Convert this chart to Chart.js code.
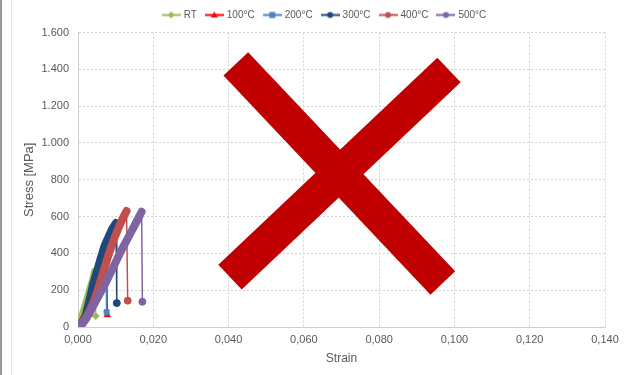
<!DOCTYPE html>
<html>
<head>
<meta charset="utf-8">
<script src="https://cdn.jsdelivr.net/npm/chart.js@4.4.1/dist/chart.umd.min.js"></script>
<style>
  html, body { margin: 0; padding: 0; background: #ffffff; }
  #wrap { position: relative; width: 626px; height: 375px; }
  canvas { display: block; }
</style>
</head>
<body>
<div id="wrap"><canvas id="c" width="626" height="375"></canvas></div>
<script>
// ---- Data ----
const seriesNames = ['RT', '100°C', '200°C', '300°C', '400°C', '500°C'];

const strainRT   = [0, 0.001, 0.002, 0.003, 0.004, 0.0045, 0.0047];
const stressRT   = [0, 50, 115, 185, 255, 300, 60];

const strain100  = [0, 0.001, 0.002, 0.003, 0.004, 0.005, 0.006, 0.007, 0.0076, 0.0078];
const stress100  = [0, 18, 50, 100, 160, 220, 280, 335, 370, 65];

const strain200  = [0, 0.001, 0.002, 0.003, 0.004, 0.005, 0.006, 0.007, 0.0074, 0.0076];
const stress200  = [0, 20, 55, 115, 185, 255, 320, 390, 420, 81];

const strain300  = [0, 0.001, 0.002, 0.003, 0.004, 0.005, 0.006, 0.007, 0.008, 0.009, 0.0101, 0.0103];
const stress300  = [0, 22, 60, 140, 230, 300, 370, 438, 485, 530, 565, 130];

const strain400  = [0, 0.001, 0.002, 0.003, 0.004, 0.005, 0.006, 0.007, 0.008, 0.009, 0.010, 0.011, 0.012, 0.0129, 0.0132];
const stress400  = [0, 20, 48, 85, 130, 185, 250, 318, 385, 445, 500, 550, 595, 630, 143];

const strain500  = [0, 0.001, 0.002, 0.003, 0.004, 0.005, 0.006, 0.007, 0.008, 0.009, 0.010, 0.011, 0.012, 0.013, 0.014, 0.015, 0.016, 0.0169, 0.0171];
const stress500  = [0, 12, 40, 75, 112, 150, 188, 225, 268, 310, 352, 395, 435, 473, 512, 550, 590, 626, 137];

const xTicks = [0, 0.02, 0.04, 0.06, 0.08, 0.10, 0.12, 0.14];
const yTicks = [0, 200, 400, 600, 800, 1000, 1200, 1400, 1600];

// ---- Styles ----
const colors  = ['#9BBB59', '#FF0000', '#4F81BD', '#1F497D', '#C0504D', '#8064A2'];
const markers = ['rectRot', 'triangle', 'rect', 'circle', 'circle', 'circle'];
const strains = [strainRT, strain100, strain200, strain300, strain400, strain500];
const stresses = [stressRT, stress100, stress200, stress300, stress400, stress500];

function pts(xs, ys) { return xs.map((x, i) => ({ x: x, y: ys[i] })); }

function legendIcon(color, marker) {
  const c = document.createElement('canvas');
  c.width = 19; c.height = 9;
  const g = c.getContext('2d');
  g.strokeStyle = color; g.lineWidth = 2;
  g.beginPath(); g.moveTo(0, 4.5); g.lineTo(19, 4.5); g.stroke();
  g.fillStyle = color;
  const cx = 9.5, cy = 4.5, r = 3;
  g.beginPath();
  if (marker === 'circle') { g.arc(cx, cy, r, 0, Math.PI * 2); }
  else if (marker === 'rect') { g.rect(cx - r, cy - r, 2 * r, 2 * r); }
  else if (marker === 'rectRot') { g.moveTo(cx, cy - r - 0.5); g.lineTo(cx + r + 0.5, cy); g.lineTo(cx, cy + r + 0.5); g.lineTo(cx - r - 0.5, cy); g.closePath(); }
  else if (marker === 'triangle') { g.moveTo(cx, cy - r - 0.5); g.lineTo(cx + r + 0.5, cy + r - 0.5); g.lineTo(cx - r - 0.5, cy + r - 0.5); g.closePath(); }
  g.fill();
  return c;
}
const icons = colors.map((c, i) => legendIcon(c, markers[i]));

const datasets = seriesNames.map((name, i) => {
  const last = strains[i].length - 1;
  return {
    label: name,
    data: pts(strains[i], stresses[i]),
    borderColor: colors[i],
    backgroundColor: colors[i],
    pointBackgroundColor: colors[i],
    pointBorderColor: colors[i],
    pointBorderWidth: 1,
    pointStyle: markers[i],
    pointRadius: ctx => (ctx.dataIndex === last ? 3.5 : 0),
    pointHoverRadius: 0,
    borderWidth: 8,
    borderCapStyle: 'round',
    borderJoinStyle: 'round',
    segment: { borderWidth: ctx => (ctx.p1DataIndex === last ? 1.5 : 8) },
    showLine: true,
    tension: 0,
    order: seriesNames.length - i,
  };
});

const frameAndCross = {
  id: 'frameAndCross',
  afterLayout(chart) {
    const lg = chart.legend;
    if (lg) {
      lg.left += 22.5; lg.right += 22.5;
      lg.top -= 2.5; lg.bottom -= 2.5;
    }
  },
  beforeDraw(chart) {
    const ctx = chart.ctx;
    ctx.save();
    ctx.fillStyle = '#ffffff';
    ctx.fillRect(0, 0, chart.width, chart.height);
    ctx.fillStyle = '#9a9a9a';
    ctx.fillRect(0, 0, 2, chart.height);
    ctx.fillStyle = '#e4e4e4';
    ctx.fillRect(11, 0, 1, chart.height);
    ctx.restore();
  },
  afterDraw(chart) {
    const ctx = chart.ctx;
    ctx.save();
    ctx.strokeStyle = '#C00000';
    ctx.lineWidth = 34;
    ctx.lineCap = 'butt';
    ctx.beginPath();
    ctx.moveTo(235.8, 63.8); ctx.lineTo(442.8, 283);
    ctx.moveTo(449, 70); ctx.lineTo(230, 277.2);
    ctx.stroke();
    ctx.restore();
  }
};

const FONT = "'Liberation Sans', Arial, sans-serif";
const TXT = '#595959';

new Chart(document.getElementById('c'), {
  type: 'scatter',
  data: { datasets: datasets },
  options: {
    responsive: false,
    animation: false,
    layout: { padding: { left: 0, right: 21, top: 2.5, bottom: 0 } },
    plugins: {
      tooltip: { enabled: false },
      legend: {
        position: 'top',
        align: 'center',
        labels: {
          usePointStyle: true,
          pointStyleWidth: 15,
          boxHeight: 9,
          padding: 10,
          color: TXT,
          font: { family: FONT, size: 10 },
          sort: (a, b) => a.datasetIndex - b.datasetIndex,
          generateLabels: chart => {
            const items = Chart.defaults.plugins.legend.labels.generateLabels(chart);
            items.forEach(it => { it.pointStyle = icons[it.datasetIndex]; });
            return items;
          }
        }
      }
    },
    scales: {
      x: {
        type: 'linear',
        min: xTicks[0],
        max: xTicks[xTicks.length - 1],
        afterBuildTicks: s => { s.ticks = xTicks.map(v => ({ value: v })); },
        afterFit: s => { s.height = 48; },
        grid: { color: '#d4d4d4', drawTicks: false, lineWidth: 1 },
        border: { color: '#d0d0d0', width: 1, dash: [2, 2] },
        ticks: {
          color: TXT,
          font: { family: FONT, size: 11 },
          padding: 6,
          maxRotation: 0,
          callback: v => Number(v).toFixed(3).replace('.', ',')
        },
        title: {
          display: true,
          text: 'Strain',
          color: TXT,
          font: { family: FONT, size: 12 },
          padding: { top: 4, bottom: 9 }
        }
      },
      y: {
        type: 'linear',
        min: yTicks[0],
        max: yTicks[yTicks.length - 1],
        afterBuildTicks: s => { s.ticks = yTicks.map(v => ({ value: v })); },
        afterFit: s => { s.width = 78; },
        grid: { color: '#d4d4d4', drawTicks: false, lineWidth: 1 },
        border: { color: '#d0d0d0', width: 1, dash: [2, 2] },
        ticks: {
          color: TXT,
          font: { family: FONT, size: 11 },
          padding: 9,
          callback: v => (v >= 1000 ? Math.floor(v / 1000) + '.' + String(v % 1000).padStart(3, '0') : String(v))
        },
        title: {
          display: true,
          text: 'Stress [MPa]',
          color: TXT,
          font: { family: FONT, size: 13 },
          padding: { top: 22, bottom: 4 }
        }
      }
    }
  },
  plugins: [frameAndCross]
});
</script>
</body>
</html>
